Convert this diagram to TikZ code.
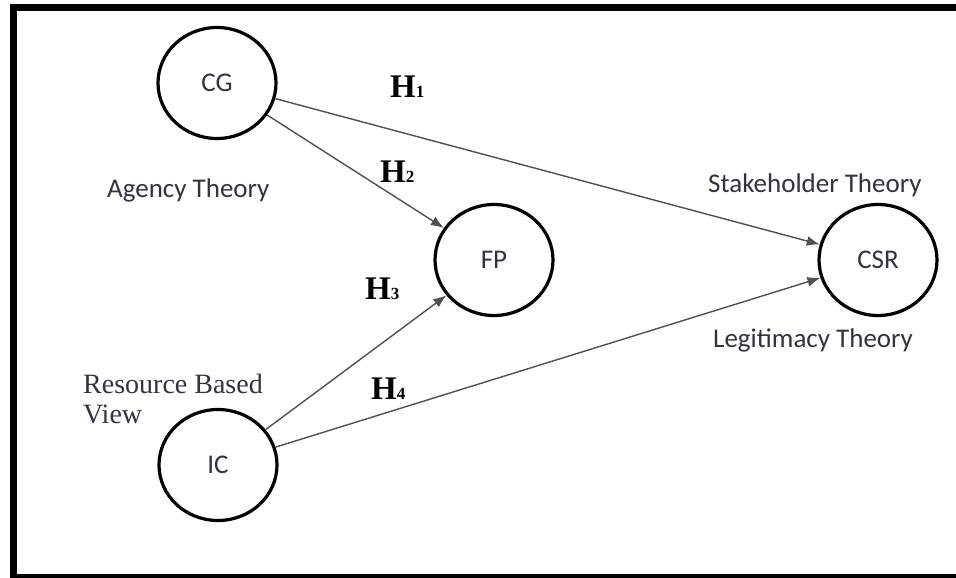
\documentclass[tikz,border=0pt]{standalone}
\usepackage{fontspec}
\setmainfont{Liberation Serif}
\newfontfamily\calibri{Carlito}
\usetikzlibrary{positioning, arrows.meta, shapes.geometric}

\definecolor{inkblue}{RGB}{50,50,66}
\definecolor{linegray}{RGB}{80,80,80}

\tikzset{
    construct/.style={draw, ellipse, line width=3.2pt, minimum width=118pt, minimum height=111pt, inner sep=0pt, text=inkblue, font=\calibri\fontsize{27}{30}\selectfont},
    theory/.style={anchor=base west, inner sep=0pt, text=inkblue, font=\calibri\fontsize{27}{30}\selectfont},
    hyp/.style={anchor=base west, inner sep=0pt, font=\bfseries\fontsize{33}{36}\selectfont},
    link/.style={->, line width=1.4pt, draw=linegray},
}
\newcommand{\hlabel}[1]{H{\fontsize{17}{17}\selectfont #1}}

\begin{document}
\begin{tikzpicture}[x=1pt, y=-1pt, >={Latex[length=13pt, width=10pt]}]
    \useasboundingbox (0, 0) rectangle (956, 578);
    \fill [white] (0, 0) rectangle (956, 578);
    \draw [line width=7.5pt] (956, 7.5) -- (13.5, 7.5) -- (13.5, 578) -- (956, 578);

    \node (cg) [construct] at (217, 83) {CG};
    \node (fp) [construct] at (494, 260) {FP};
    \node (csr) [construct] at (878, 260) {CSR};
    \node (ic) [construct] at (218, 465) {IC};

    \node (agency) [theory] at (107, 197) {Agency Theory};
    \node (stakeholder) [theory] at (708, 192) {Stakeholder Theory};
    \node (legitimacy) [theory] at (713, 347) {Legitimacy Theory};
    \node (rbv) [anchor=north west, inner sep=0pt, align=left, text=inkblue, font=\fontsize{28}{30}\selectfont] at (83, 374) {Resource Based\\View};

    \node (h1) [hyp] at (390, 98) {\hlabel{1}};
    \node (h2) [hyp] at (380, 182) {\hlabel{2}};
    \node (h3) [hyp] at (365, 299) {\hlabel{3}};
    \node (h4) [hyp] at (371, 399) {\hlabel{4}};

    \draw [link] (cg) -- (csr);
    \draw [link] (cg) -- (fp);
    \draw [link] (ic) -- (fp);
    \draw [link] (ic) -- (csr);
\end{tikzpicture}
\end{document}
